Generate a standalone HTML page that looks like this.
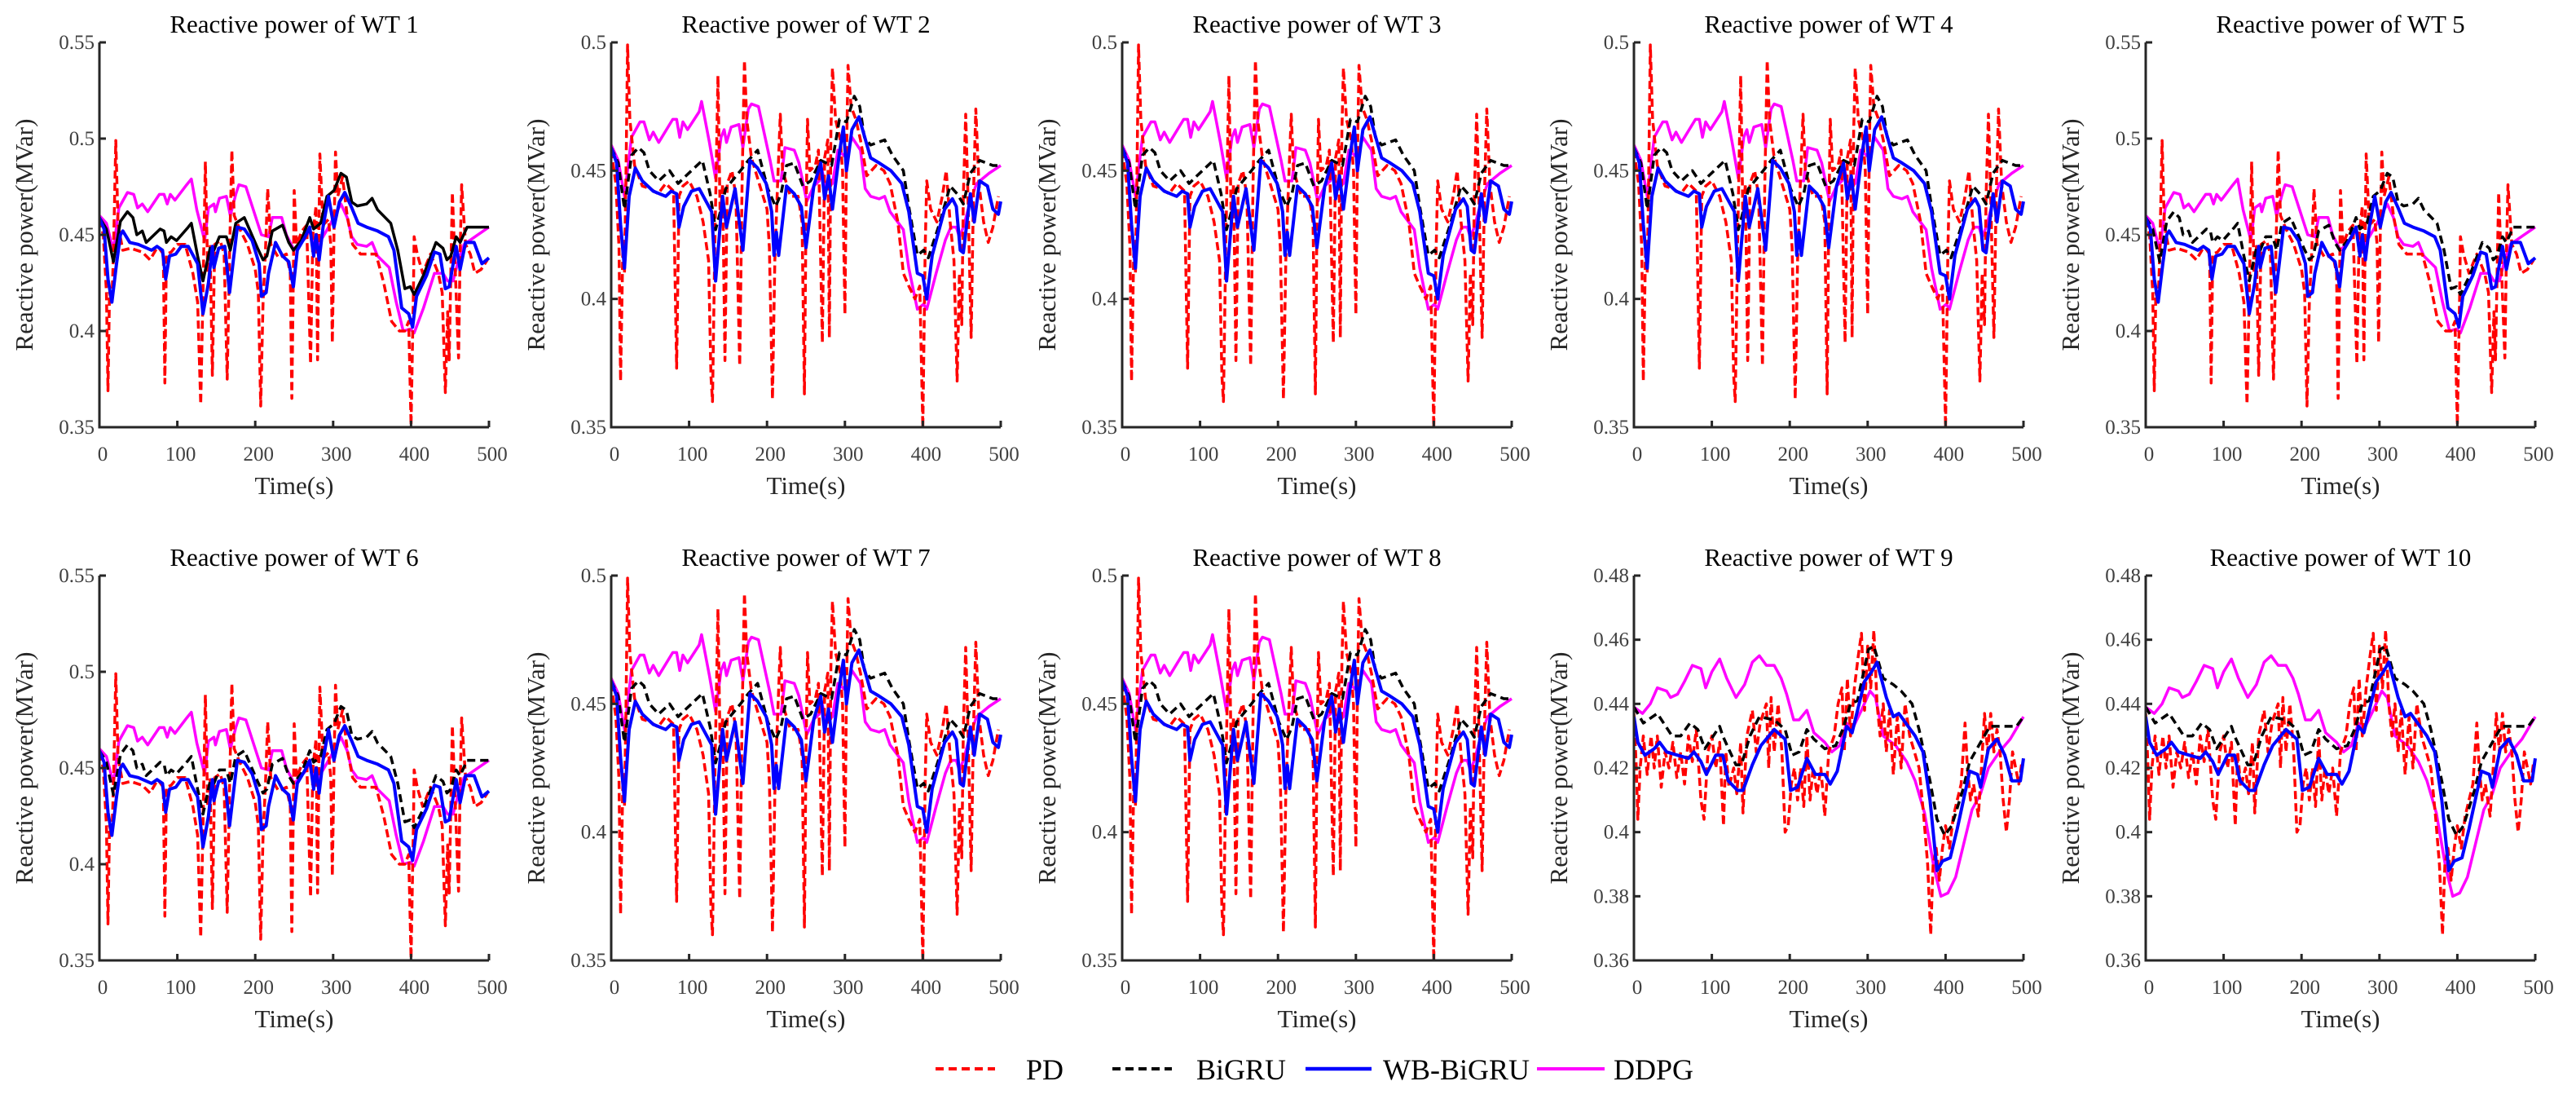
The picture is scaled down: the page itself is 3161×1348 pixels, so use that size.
<!DOCTYPE html>
<html><head><meta charset="utf-8"><title>Reactive power of WTs</title>
<style>
html,body{margin:0;padding:0;background:#fff;}
svg{display:block;font-family:"Liberation Serif",serif;}
</style></head>
<body>
<svg id="chart" width="3161" height="1348" viewBox="0 0 3161 1348" xmlns="http://www.w3.org/2000/svg">
<rect x="0" y="0" width="3161" height="1348" fill="#fff"/>
<g id="panels"></g>
<g id="legend">
  <g>
    <line x1="1148" y1="1311" x2="1221" y2="1311" stroke="#ff0000" stroke-width="4" stroke-dasharray="10,6"/>
    <text x="1259" y="1324" font-size="36" fill="#000">PD</text>
  </g>
  <g>
    <line x1="1365" y1="1311" x2="1438" y2="1311" stroke="#000" stroke-width="4" stroke-dasharray="10,6"/>
    <text x="1468" y="1324" font-size="36" fill="#000">BiGRU</text>
  </g>
  <g>
    <line x1="1602" y1="1311" x2="1683" y2="1311" stroke="#0000ff" stroke-width="4.5"/>
    <text x="1697" y="1324" font-size="36" fill="#000">WB-BiGRU</text>
  </g>
  <g>
    <line x1="1886" y1="1311" x2="1969" y2="1311" stroke="#ff00ff" stroke-width="4"/>
    <text x="1980" y="1324" font-size="36" fill="#000">DDPG</text>
  </g>
</g>
</svg>
<script>
// ---------- Data group A (WT 1, 5, 6) ----------
const aDdpgT=[0,9,18,25,36,44,49,55,62,77,83,87,91,97,112,118,125,135,140,147,149,154,163,168,175,179,188,208,217,222,234,240,250,266,269,278,287,297,302,310,318,324,331,343,350,357,372,381,390,399,404,416,430,441,447,454,461,468,482,500];
const aDdpgV=[0.460,0.456,0.442,0.464,0.472,0.471,0.464,0.466,0.462,0.471,0.471,0.466,0.471,0.468,0.476,0.479,0.463,0.447,0.464,0.466,0.462,0.469,0.470,0.460,0.471,0.476,0.475,0.450,0.449,0.459,0.459,0.450,0.442,0.449,0.453,0.443,0.449,0.456,0.460,0.466,0.459,0.449,0.445,0.444,0.446,0.439,0.433,0.415,0.400,0.401,0.399,0.412,0.430,0.430,0.426,0.426,0.437,0.445,0.449,0.454];
const aBigruT=[0,9,18,27,36,43,48,55,60,78,83,86,92,99,114,118,126,133,142,147,154,163,168,175,186,203,210,215,222,235,243,249,259,270,275,284,292,301,310,317,324,331,343,350,357,374,383,392,399,404,416,432,441,446,451,458,463,472,490,500];
const aBigruV=[0.459,0.453,0.436,0.457,0.462,0.459,0.450,0.452,0.446,0.453,0.452,0.446,0.449,0.447,0.454,0.456,0.439,0.426,0.443,0.442,0.449,0.449,0.442,0.456,0.459,0.443,0.437,0.439,0.452,0.455,0.446,0.442,0.447,0.459,0.453,0.456,0.470,0.473,0.482,0.480,0.467,0.465,0.466,0.469,0.463,0.456,0.442,0.422,0.423,0.419,0.429,0.446,0.443,0.437,0.439,0.449,0.446,0.454,0.454,0.454];
const aWbT=[0,6,11,16,22,27,30,39,50,67,74,81,85,90,98,105,114,126,133,140,145,147,153,161,167,172,177,186,196,205,208,214,217,226,235,243,249,254,264,270,275,278,282,287,294,301,308,315,324,332,343,357,371,378,388,397,402,407,420,430,437,444,449,458,463,470,481,491,500];
const aWbV=[0.459,0.453,0.427,0.415,0.435,0.450,0.452,0.446,0.445,0.442,0.444,0.442,0.427,0.439,0.440,0.444,0.444,0.435,0.409,0.425,0.444,0.433,0.443,0.444,0.420,0.437,0.454,0.453,0.447,0.435,0.418,0.420,0.430,0.446,0.439,0.436,0.423,0.442,0.449,0.454,0.439,0.450,0.437,0.454,0.470,0.454,0.467,0.472,0.464,0.456,0.454,0.452,0.449,0.442,0.412,0.409,0.402,0.418,0.429,0.441,0.440,0.422,0.423,0.444,0.432,0.446,0.446,0.435,0.438];
const aPdT=[0,5,9,11,13,16,18,21,24,30,40,55,65,75,82,84,86,92,100,110,120,126,130,133,136,139,142,145,148,155,160,164,167,170,173,180,190,200,204,207,210,213,216,220,230,240,245,247,249,250,253,260,266,271,274,278,280,282,283,287,294,297,299,301,303,306,312,318,325,335,345,355,365,375,385,392,397,400,403,404,408,415,425,435,440,444,447,449,451,453,456,461,463,465,470,476,482,490,498];
const aPdV=[0.458,0.450,0.420,0.369,0.420,0.415,0.440,0.499,0.455,0.442,0.443,0.441,0.437,0.444,0.440,0.373,0.440,0.441,0.445,0.445,0.430,0.415,0.362,0.420,0.488,0.430,0.444,0.377,0.445,0.447,0.440,0.375,0.440,0.494,0.460,0.453,0.445,0.432,0.420,0.361,0.415,0.440,0.474,0.445,0.438,0.440,0.430,0.365,0.430,0.473,0.445,0.452,0.455,0.383,0.450,0.465,0.385,0.460,0.492,0.455,0.458,0.445,0.394,0.450,0.493,0.470,0.480,0.460,0.445,0.440,0.440,0.440,0.425,0.405,0.400,0.400,0.405,0.351,0.420,0.449,0.440,0.430,0.440,0.430,0.420,0.368,0.410,0.385,0.430,0.472,0.440,0.386,0.440,0.476,0.445,0.440,0.430,0.432,0.437];

// ---------- Data group B (WT 2, 3, 4, 7, 8) ----------
const bDdpgT=[0,9,17,26,37,42,49,54,61,79,84,88,92,98,113,116,126,134,141,145,148,154,164,169,176,180,189,204,209,218,223,235,241,251,260,267,270,276,284,291,302,309,320,326,333,344,351,358,375,382,393,401,405,417,429,436,443,447,452,461,469,485,500];
const bDdpgV=[0.460,0.454,0.440,0.463,0.469,0.469,0.462,0.465,0.461,0.470,0.470,0.463,0.469,0.466,0.473,0.477,0.461,0.447,0.463,0.466,0.461,0.467,0.468,0.459,0.474,0.476,0.475,0.454,0.446,0.446,0.459,0.458,0.453,0.438,0.444,0.446,0.451,0.443,0.445,0.458,0.455,0.463,0.458,0.443,0.440,0.439,0.440,0.434,0.427,0.412,0.396,0.398,0.396,0.410,0.423,0.428,0.428,0.424,0.428,0.438,0.445,0.449,0.452];
const bBigruT=[0,9,17,26,35,42,49,61,75,86,96,117,127,134,141,147,166,176,188,201,211,218,225,235,246,256,269,283,293,302,312,319,325,333,351,361,375,382,393,401,407,421,435,444,452,461,473,490,500];
const bBigruV=[0.459,0.453,0.435,0.456,0.459,0.457,0.450,0.446,0.450,0.445,0.448,0.454,0.441,0.427,0.435,0.443,0.450,0.454,0.458,0.443,0.436,0.441,0.452,0.453,0.444,0.446,0.454,0.452,0.470,0.469,0.479,0.475,0.463,0.460,0.462,0.456,0.450,0.436,0.417,0.419,0.416,0.429,0.444,0.441,0.437,0.449,0.454,0.452,0.452];
const bWbT=[0,7,12,17,23,31,40,54,70,77,84,87,93,103,113,129,134,143,148,159,169,178,188,199,206,209,212,215,225,235,244,250,260,269,274,279,284,293,298,302,309,318,333,344,359,373,382,393,400,405,412,428,438,443,448,452,461,466,473,483,490,497,500];
const bWbV=[0.459,0.453,0.429,0.412,0.440,0.451,0.446,0.442,0.440,0.442,0.441,0.428,0.436,0.442,0.443,0.434,0.407,0.440,0.428,0.443,0.419,0.454,0.451,0.445,0.434,0.417,0.426,0.417,0.444,0.441,0.436,0.420,0.444,0.453,0.439,0.448,0.435,0.457,0.467,0.450,0.466,0.471,0.455,0.453,0.450,0.445,0.434,0.410,0.409,0.400,0.417,0.435,0.439,0.436,0.419,0.418,0.441,0.430,0.446,0.444,0.435,0.433,0.438];
const bPdT=[0,6,10,12,15,17,19,21,24,30,40,50,60,70,80,84,87,92,100,110,118,125,128,130,133,137,140,143,146,149,155,160,165,168,171,174,180,190,200,203,207,210,213,217,220,230,240,245,248,250,252,255,262,266,271,274,278,280,282,284,288,294,297,300,302,304,308,314,320,328,340,350,358,368,375,382,390,396,400,403,405,410,418,425,430,435,440,444,447,450,452,455,458,462,465,468,472,478,484,490,497];
const bPdV=[0.458,0.445,0.420,0.368,0.420,0.410,0.450,0.499,0.470,0.452,0.444,0.443,0.441,0.445,0.442,0.373,0.440,0.444,0.446,0.440,0.430,0.415,0.370,0.360,0.420,0.487,0.430,0.445,0.376,0.445,0.450,0.440,0.374,0.445,0.493,0.470,0.455,0.445,0.435,0.420,0.361,0.415,0.440,0.472,0.450,0.440,0.440,0.430,0.363,0.430,0.470,0.450,0.452,0.458,0.383,0.455,0.462,0.385,0.465,0.490,0.470,0.462,0.450,0.394,0.455,0.491,0.475,0.470,0.462,0.448,0.452,0.450,0.445,0.430,0.410,0.405,0.400,0.405,0.350,0.420,0.446,0.435,0.430,0.440,0.450,0.430,0.415,0.368,0.410,0.390,0.440,0.472,0.440,0.385,0.440,0.474,0.445,0.430,0.422,0.428,0.440];

// ---------- Data group C (WT 9, 10) ----------
const cDdpgT=[0,11,21,30,42,47,56,65,75,86,92,100,110,119,131,142,152,161,170,180,189,196,205,212,222,231,245,254,264,273,280,292,303,310,320,336,350,361,373,385,394,403,413,422,434,445,455,469,483,500];
const cDdpgV=[0.439,0.437,0.440,0.445,0.444,0.442,0.443,0.447,0.452,0.451,0.445,0.450,0.454,0.448,0.442,0.446,0.453,0.455,0.452,0.452,0.448,0.443,0.435,0.435,0.438,0.431,0.428,0.425,0.427,0.434,0.432,0.438,0.444,0.442,0.430,0.427,0.422,0.416,0.406,0.389,0.380,0.381,0.386,0.395,0.407,0.412,0.420,0.425,0.429,0.436];
const cBigruT=[0,12,30,49,60,72,82,91,110,114,131,138,149,161,180,194,203,212,222,231,245,259,268,278,287,301,308,320,333,343,357,366,380,389,399,408,422,431,445,457,478,491,500];
const cBigruV=[0.439,0.434,0.437,0.430,0.430,0.434,0.432,0.426,0.433,0.430,0.421,0.421,0.430,0.436,0.435,0.432,0.424,0.425,0.432,0.429,0.426,0.427,0.432,0.440,0.441,0.457,0.458,0.448,0.446,0.444,0.440,0.432,0.416,0.404,0.399,0.402,0.413,0.422,0.428,0.433,0.433,0.433,0.436];
const cWbT=[0,5,14,26,33,42,56,70,77,86,93,105,114,121,133,140,152,163,180,194,201,210,222,233,245,252,261,273,280,296,305,312,324,333,340,352,361,371,380,389,396,406,415,431,441,445,455,466,476,485,496,500];
const cWbV=[0.436,0.428,0.424,0.426,0.428,0.425,0.424,0.423,0.425,0.422,0.418,0.424,0.424,0.416,0.413,0.413,0.421,0.427,0.432,0.429,0.413,0.414,0.423,0.418,0.418,0.415,0.419,0.433,0.431,0.447,0.450,0.453,0.442,0.436,0.437,0.433,0.430,0.425,0.410,0.388,0.391,0.392,0.401,0.419,0.418,0.414,0.426,0.429,0.424,0.416,0.416,0.423];
const cPdT=[0,3,5,8,12,17,22,26,30,35,40,45,50,55,60,65,70,75,80,86,90,95,100,105,110,115,118,122,128,132,137,140,145,152,157,162,170,173,176,180,185,190,194,198,202,206,210,214,218,222,226,230,235,240,245,250,257,262,267,270,274,278,283,288,292,296,300,304,308,312,316,320,324,328,333,338,343,348,354,360,366,372,377,381,384,388,392,396,400,405,410,415,420,425,428,432,436,442,446,450,454,458,462,466,470,474,478,482,486,490,494,498];
const cPdV=[0.437,0.420,0.404,0.420,0.430,0.418,0.430,0.420,0.430,0.414,0.425,0.420,0.428,0.417,0.425,0.415,0.430,0.422,0.432,0.410,0.404,0.425,0.430,0.420,0.428,0.402,0.425,0.414,0.420,0.412,0.428,0.406,0.430,0.438,0.425,0.434,0.440,0.420,0.442,0.425,0.440,0.425,0.400,0.402,0.415,0.420,0.410,0.420,0.408,0.430,0.410,0.420,0.412,0.420,0.405,0.425,0.430,0.440,0.445,0.425,0.448,0.430,0.445,0.455,0.462,0.438,0.458,0.445,0.463,0.440,0.430,0.440,0.425,0.438,0.418,0.436,0.420,0.440,0.430,0.425,0.420,0.405,0.390,0.368,0.390,0.395,0.385,0.395,0.402,0.395,0.405,0.410,0.415,0.434,0.420,0.410,0.415,0.405,0.420,0.437,0.425,0.437,0.425,0.432,0.425,0.410,0.400,0.410,0.425,0.420,0.415,0.422];

// ---------- Panel configuration ----------
const panelTitles=["Reactive power of WT 1","Reactive power of WT 2","Reactive power of WT 3","Reactive power of WT 4","Reactive power of WT 5","Reactive power of WT 6","Reactive power of WT 7","Reactive power of WT 8","Reactive power of WT 9","Reactive power of WT 10"];
const panelGroups=["A","B","B","B","A","A","B","B","C","C"];
const yTicksA=[0.35,0.4,0.45,0.5,0.55];
const yTickLabelsA=["0.35","0.4","0.45","0.5","0.55"];
const yTicksB=[0.35,0.4,0.45,0.5];
const yTickLabelsB=["0.35","0.4","0.45","0.5"];
const yTicksC=[0.36,0.38,0.4,0.42,0.44,0.46,0.48];
const yTickLabelsC=["0.36","0.38","0.4","0.42","0.44","0.46","0.48"];
const xTicks=[0,100,200,300,400,500];
const xTickLabels=["0","100","200","300","400","500"];

const groups={
  A:{ticks:yTicksA,labels:yTickLabelsA,pd:[aPdT,aPdV],bigru:[aBigruT,aBigruV],wb:[aWbT,aWbV],ddpg:[aDdpgT,aDdpgV]},
  B:{ticks:yTicksB,labels:yTickLabelsB,pd:[bPdT,bPdV],bigru:[bBigruT,bBigruV],wb:[bWbT,bWbV],ddpg:[bDdpgT,bDdpgV]},
  C:{ticks:yTicksC,labels:yTickLabelsC,pd:[cPdT,cPdV],bigru:[cBigruT,cBigruV],wb:[cWbT,cWbV],ddpg:[cDdpgT,cDdpgV]}
};

const NS="http://www.w3.org/2000/svg";
const lefts=[122,750,1377,2005,2633];
const tops=[52,706];
const PW=478, PH=472;
const root=document.getElementById('panels');
function mk(tag,attrs,parent){const e=document.createElementNS(NS,tag);for(const k in attrs)e.setAttribute(k,attrs[k]);if(parent)parent.appendChild(e);return e;}

panelTitles.forEach((title,i)=>{
  const g=groups[panelGroups[i]];
  const L=lefts[i%5], T=tops[Math.floor(i/5)], B=T+PH, R=L+PW;
  const ymin=g.ticks[0], ymax=g.ticks[g.ticks.length-1];
  const xs=t=>L+t/500*PW;
  const ys=v=>B-(v-ymin)/(ymax-ymin)*PH;
  const pg=mk('g',{},root);
  
  
  const tt=mk('text',{x:L+PW/2,y:T-12,'text-anchor':'middle','font-size':31,fill:'#000'},pg);
  tt.textContent=title;
  
  
  // series
  const clipId='clip'+i;
  const cp=mk('clipPath',{id:clipId},pg);
  mk('rect',{x:L,y:T-10,width:PW+4,height:PH+10},cp);
  const sg=mk('g',{'clip-path':'url(#'+clipId+')'},pg);
  const series=[
    ['series-ddpg',g.ddpg,'#ff00ff',3.5,null],
    ['series-pd',g.pd,'#ff0000',3.5,'10,5'],
    ['series-bigru',g.bigru,'#000000',3.5,i===0?null:'10,6'],
    ['series-wb-bigru',g.wb,'#0000ff',4,null]
  ];
  series.forEach(s=>{
    const [tArr,vArr]=s[1];
    const d=tArr.map((t,k)=>(k?'L':'M')+xs(t).toFixed(1)+','+ys(vArr[k]).toFixed(1)).join('');
    const p=mk('path',{d:d,fill:'none',stroke:s[2],'stroke-width':s[3],'stroke-linejoin':'round'},sg);
    if(s[4])p.setAttribute('stroke-dasharray',s[4]);
    
    
  });
  // axes
  const ax=mk('g',{stroke:'#262626','stroke-width':3,fill:'none'},pg);
  
  
  mk('path',{d:`M${L},${T}L${L},${B}L${R},${B}`},ax);
  xTicks.forEach(t=>mk('line',{x1:xs(t),y1:B,x2:xs(t),y2:B-8},ax));
  g.ticks.forEach(v=>mk('line',{x1:L,y1:ys(v),x2:L+8,y2:ys(v)},ax));
  const xl=mk('g',{'font-size':25,fill:'#404040','text-anchor':'middle'},pg);
  
  
  xTicks.forEach((t,k)=>{const e=mk('text',{x:xs(t)+4,y:B+41},xl);e.textContent=xTickLabels[k];});
  const yl=mk('g',{'font-size':25,fill:'#404040','text-anchor':'end'},pg);
  
  
  g.ticks.forEach((v,k)=>{const e=mk('text',{x:L-6,y:ys(v)+8},yl);e.textContent=g.labels[k];});
  const xt=mk('text',{x:L+PW/2,y:B+82,'font-size':31,fill:'#262626','text-anchor':'middle'},pg);
  xt.textContent='Time(s)';
  
  
  const cx=L-89, cy=T+PH/2;
  const yt=mk('text',{x:cx,y:cy,'font-size':31,fill:'#262626','text-anchor':'middle','dominant-baseline':'middle',transform:`rotate(-90 ${cx} ${cy})`},pg);
  yt.textContent='Reactive power(MVar)';
  
  
});
</script>
</body></html>
